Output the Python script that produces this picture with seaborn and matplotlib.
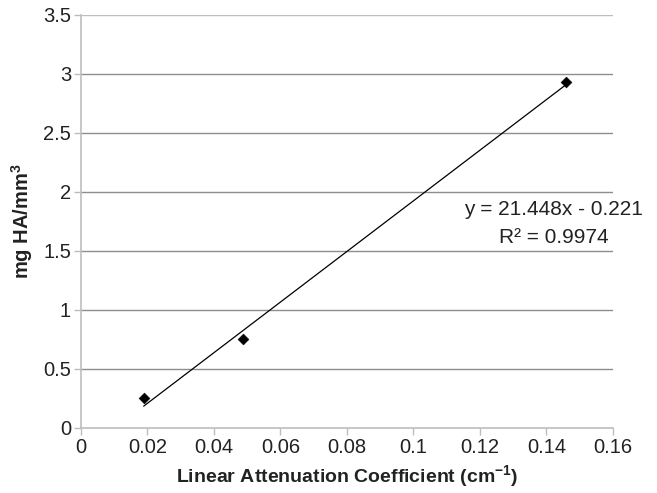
import numpy as np
import pandas as pd
import matplotlib
matplotlib.use("Agg")
import matplotlib.pyplot as plt
import seaborn as sns

# calibration points
mu = [0.0189, 0.0489, 0.1459]
density = [0.25, 0.75, 2.93]
slope = 21.448
intercept = -0.221
r2 = 0.9974

x_ticks = [0, 0.02, 0.04, 0.06, 0.08, 0.1, 0.12, 0.14, 0.16]
x_labels = ["0", "0.02", "0.04", "0.06", "0.08", "0.1", "0.12", "0.14", "0.16"]
y_ticks = [0, 0.5, 1, 1.5, 2, 2.5, 3, 3.5]
y_labels = ["0", "0.5", "1", "1.5", "2", "2.5", "3", "3.5"]

sns.set_style("white")
plt.rcParams['font.family'] = ['Liberation Sans', 'DejaVu Sans']
plt.rcParams['mathtext.fontset'] = 'custom'
plt.rcParams['mathtext.rm'] = 'Liberation Sans'
plt.rcParams['mathtext.bf'] = 'Liberation Sans:bold'

df = pd.DataFrame({"mu": mu, "density": density})
fit_x = np.array([min(mu), max(mu)])
fit = pd.DataFrame({"mu": fit_x, "density": slope * fit_x + intercept})

fig = plt.figure(figsize=(6.57, 4.93), dpi=100)
ax = fig.add_axes([0.123, 0.132, 0.810, 0.838])

for yv in y_ticks[1:]:
    ax.axhline(yv, color="#8e8e8e" if yv < 3.5 else "#bdbdbd", lw=1, zorder=0)

sns.lineplot(data=fit, x="mu", y="density", color="black", lw=0.9, ax=ax, zorder=2)
sns.scatterplot(data=df, x="mu", y="density", marker="D", s=30, color="black",
                edgecolor="black", ax=ax, zorder=3)

ax.set_xlim(0, 0.16)
ax.set_ylim(0, 3.5)
ax.set_xticks(x_ticks)
ax.set_xticklabels(x_labels)
ax.set_yticks(y_ticks)
ax.set_yticklabels(y_labels)
ax.tick_params(axis="both", labelsize=14.5, colors="#bdbdbd", labelcolor="#222222",
               length=5, width=1, direction="out", bottom=True, left=True, pad=2)

for side in ["top", "right"]:
    ax.spines[side].set_visible(False)
for side in ["left", "bottom"]:
    ax.spines[side].set_color("#bdbdbd")
    ax.spines[side].set_linewidth(1.2)

ax.set_xlabel(r"Linear Attenuation Coefficient (cm$\mathbf{^{-1}}$)",
              fontsize=14, fontweight="bold", color="#222222", labelpad=5)
ax.set_ylabel(r"mg HA/mm$\mathbf{^{3}}$", fontsize=14.5, fontweight="bold",
              color="#222222", labelpad=6)

ax.text(0.889, 0.528, f"y = {slope}x - {abs(intercept)}", transform=ax.transAxes,
        ha="center", va="center", fontsize=15, color="#222222")
ax.text(0.889, 0.46, f"R² = {r2}", transform=ax.transAxes,
        ha="center", va="center", fontsize=15, color="#222222")

fig.savefig("out.png", dpi=100)
